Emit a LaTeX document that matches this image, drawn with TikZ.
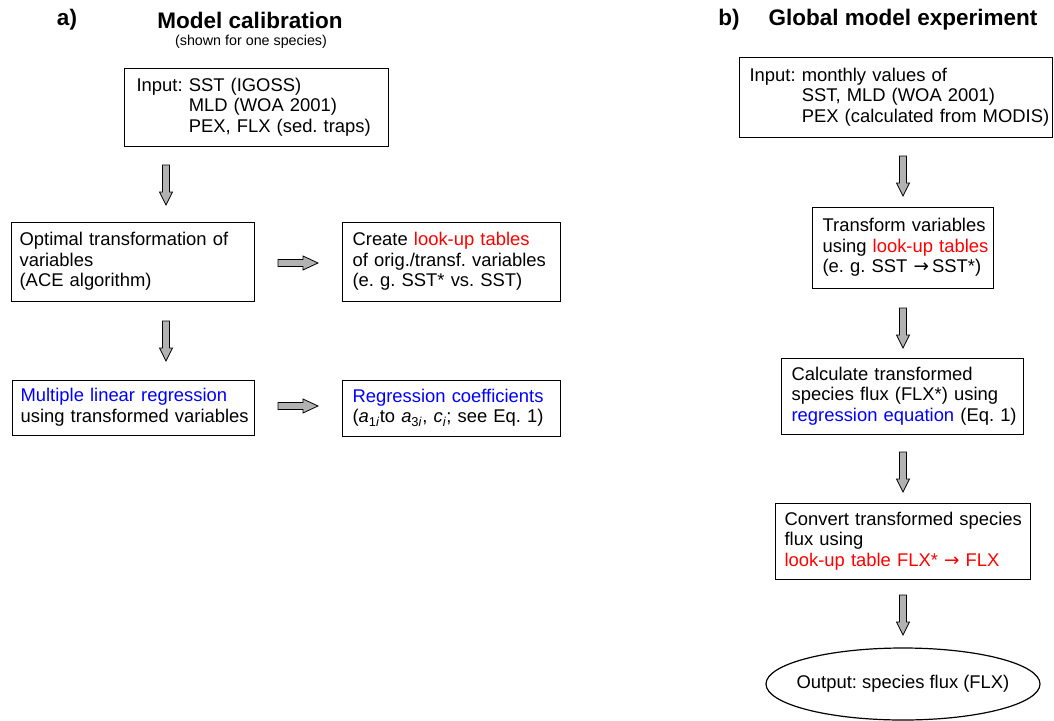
\documentclass[tikz,border=0pt]{standalone}
\usepackage{fontspec}
\setmainfont{Liberation Sans}
\newfontfamily\djv{DejaVu Sans}
\usetikzlibrary{shapes.geometric}
\newcommand{\rarr}{{\djv →}}
\newcommand{\tl}[1]{\begin{tabular}{@{}l@{}}#1\end{tabular}}
\begin{document}
\frenchspacing
\begin{tikzpicture}[x=1pt,y=-1pt,
  box/.style={draw=black,line width=1.2pt,anchor=north west,inner xsep=10pt,inner ysep=2pt,
    align=left,font=\fontsize{18.4}{20.5}\selectfont},
  arrowfill/.style={draw=black,line width=0.8pt,fill=gray!60,line join=miter},
  title/.style={font=\fontsize{22.5}{26}\selectfont\bfseries},
  vdown/.pic={\path[arrowfill] (-3.5,0) -- (-3.5,27) -- (-6.5,27) -- (0,40) -- (6.5,27) -- (3.5,27) -- (3.5,0) -- cycle;},
  hright/.pic={\path[arrowfill] (0,-3.5) -- (25,-3.5) -- (25,-7) -- (40,0) -- (25,7) -- (25,3.5) -- (0,3.5) -- cycle;},
]
\useasboundingbox (0,0) rectangle (1054,720);
% titles
\node[title] (la) at (67,20) {a)};
\node[title] (ta) at (250,20) {Model calibration};
\node[font=\fontsize{14.3}{17}\selectfont] (sa) at (251,42) {(shown for one species)};
\node[title] (lb) at (729,20) {b)};
\node[title] (tb) at (903,20) {Global model experiment};

% left column
\node[box,inner xsep=12pt,minimum width=264pt,minimum height=78pt,text width=240pt] (in1) at (124,68)
  {\tl{Input: SST (IGOSS)\\\hphantom{Input: }MLD (WOA 2001)\\\hphantom{Input: }PEX, FLX (sed. traps)}};
\node[box,inner xsep=8pt,minimum width=243pt,minimum height=79pt,text width=227pt] (ace) at (11,222)
  {\tl{Optimal transformation of\\variables\\(ACE algorithm)}};
\node[box,minimum width=218pt,minimum height=79pt,text width=198pt] (lut) at (342,222)
  {\tl{Create \textcolor{red}{look-up tables}\\of orig./transf. variables\\(e. g. SST* vs. SST)}};
\node[box,inner xsep=8pt,minimum width=242pt,minimum height=55pt,text width=226pt] (mlr) at (12,380)
  {\tl{\textcolor{blue}{Multiple linear regression}\\using transformed variables}};
\node[box,minimum width=218pt,minimum height=56pt,text width=198pt] (coef) at (342,380)
  {\tl{\textcolor{blue}{Regression coefficients}\\(\textit{a}\textsubscript{1\textit{i}}to \textit{a}\textsubscript{3\textit{i}}, \textit{c}\textsubscript{\textit{i}}; see Eq. 1)}};

\pic (a1) at (166,165) {vdown};
\pic (a2) at (166,321) {vdown};
\pic (a3) at (278,263) {hright};
\pic (a4) at (278,406) {hright};

% right column
\node[box,minimum width=313pt,minimum height=80pt,text width=293pt] (in2) at (739,57)
  {\tl{Input: monthly values of\\\hphantom{Input: }SST, MLD (WOA 2001)\\\hphantom{Input: }PEX (calculated from MODIS)}};
\node[box,minimum width=181pt,minimum height=81pt,text width=161pt] (tr) at (812,207)
  {\tl{Transform variables\\using \textcolor{red}{look-up tables}\\(e. g. SST \rarr\,SST*)}};
\node[box,minimum width=242pt,minimum height=76pt,text width=222pt] (calc) at (781,358)
  {\tl{Calculate transformed\\species flux (FLX*) using\\\textcolor{blue}{regression equation} (Eq. 1)}};
\node[box,inner xsep=9pt,minimum width=255pt,minimum height=76pt,text width=237pt] (conv) at (775,503)
  {\tl{Convert transformed species\\flux using\\\textcolor{red}{look-up table FLX* \rarr\ FLX}}};
\node[ellipse,draw=black,line width=1.2pt,minimum width=274pt,minimum height=72pt,inner sep=0pt,
  label={[font=\fontsize{18.4}{20.5}\selectfont]center:Output: species flux (FLX)}] (out) at (903,684) {};

\pic (b1) at (903,156) {vdown};
\pic (b2) at (903,308) {vdown};
\pic (b3) at (903,452) {vdown};
\pic (b4) at (903,595) {vdown};
\end{tikzpicture}
\end{document}
